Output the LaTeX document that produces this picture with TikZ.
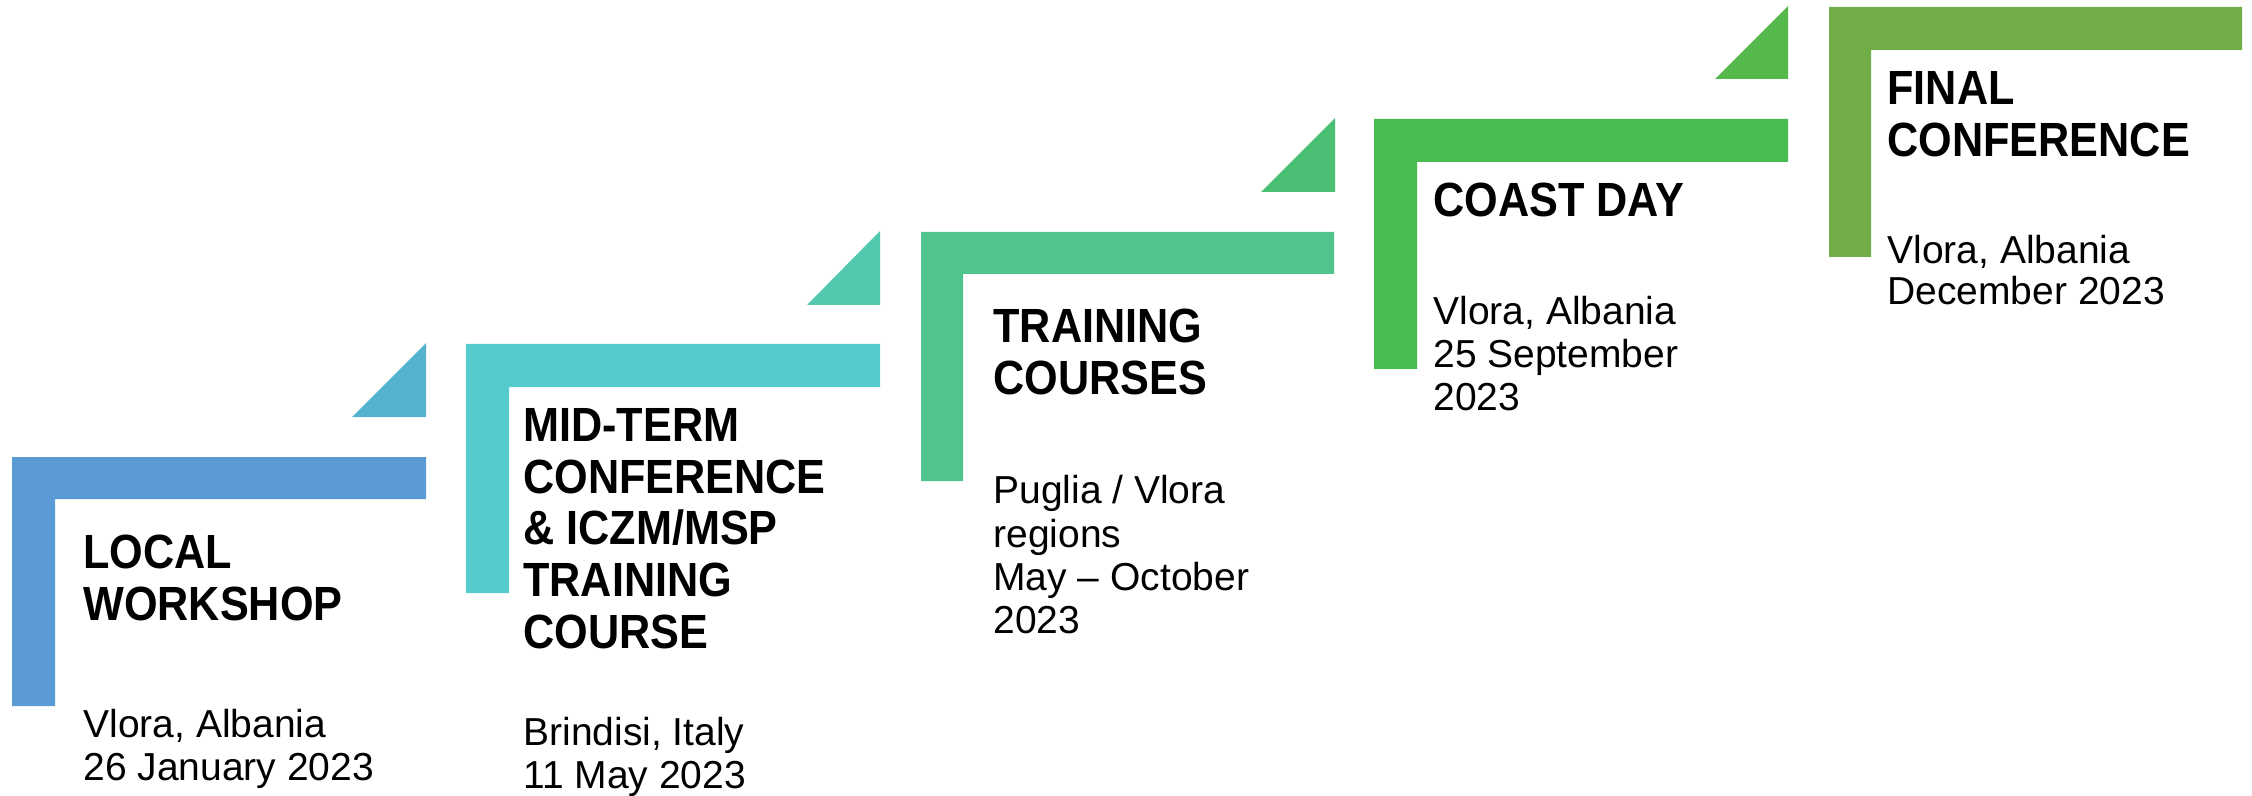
\documentclass[tikz,border=0pt]{standalone}
\usepackage{fontspec}
\setmainfont{Liberation Sans}
\newfontfamily\titlefont[FakeStretch=0.9]{Liberation Sans}
\definecolor{cS1}{HTML}{5B9BD5}
\definecolor{cT1}{HTML}{56B3D0}
\definecolor{cS2}{HTML}{55CBCD}
\definecolor{cT2}{HTML}{52C9AD}
\definecolor{cS3}{HTML}{4FC58D}
\definecolor{cT3}{HTML}{4BBF73}
\definecolor{cS4}{HTML}{48BB51}
\definecolor{cT4}{HTML}{55B84A}
\definecolor{cS5}{HTML}{70AD47}
\tikzset{
  ttl/.style={anchor=base west, inner sep=0pt, font=\titlefont\bfseries\fontsize{24pt}{26pt}\selectfont},
  dtl/.style={anchor=base west, inner sep=0pt, font=\fontsize{19.5pt}{21.5pt}\selectfont},
}
\begin{document}
\begin{tikzpicture}[x=0.5pt,y=-0.5pt]
\useasboundingbox (0,0) rectangle (2252,796);
% steps
\fill[cS1] (12,457) -- (426,457) -- (426,499) -- (55,499) -- (55,706) -- (12,706) -- cycle;
\fill[cS2] (466,344) -- (880,344) -- (880,387) -- (509,387) -- (509,593) -- (466,593) -- cycle;
\fill[cS3] (921,232) -- (1334,232) -- (1334,274) -- (963,274) -- (963,481) -- (921,481) -- cycle;
\fill[cS4] (1374,119) -- (1788,119) -- (1788,162) -- (1417,162) -- (1417,369) -- (1374,369) -- cycle;
\fill[cS5] (1829,7) -- (2242,7) -- (2242,50) -- (1871,50) -- (1871,257) -- (1829,257) -- cycle;
% triangles
\fill[cT1] (426,343) -- (426,417) -- (352,417) -- cycle;
\fill[cT2] (880,231) -- (880,305) -- (807,305) -- cycle;
\fill[cT3] (1335,118) -- (1335,192) -- (1261,192) -- cycle;
\fill[cT4] (1788,6) -- (1788,79) -- (1715,79) -- cycle;
% step 1
\node[ttl] (a1) at (83,568) {LOCAL};
\node[ttl] (a2) at (83,620) {WORKSHOP};
\node[dtl] (a3) at (83,737) {Vlora, Albania};
\node[dtl] (a4) at (83,780) {26 January 2023};
% step 2
\node[ttl] (b1) at (523,441) {MID-TERM};
\node[ttl] (b2) at (523,493) {CONFERENCE};
\node[ttl] (b3) at (523,544) {\& ICZM/MSP};
\node[ttl] (b4) at (523,596) {TRAINING};
\node[ttl] (b5) at (523,648) {COURSE};
\node[dtl] (b6) at (523,745) {Brindisi, Italy};
\node[dtl] (b7) at (523,788) {11 May 2023};
% step 3
\node[ttl] (c1) at (993,343) {TRAINING};
\node[ttl] (c2) at (993,394) {COURSES};
\node[dtl] (c3) at (993,503) {Puglia / Vlora};
\node[dtl] (c4) at (993,547) {regions};
\node[dtl] (c5) at (993,590) {May – October};
\node[dtl] (c6) at (993,633) {2023};
% step 4
\node[ttl] (d1) at (1433,217) {COAST DAY};
\node[dtl] (d2) at (1433,325) {Vlora, Albania};
\node[dtl] (d3) at (1433,367) {25 September};
\node[dtl] (d4) at (1433,410) {2023};
% step 5
\node[ttl] (e1) at (1887,105) {FINAL};
\node[ttl] (e2) at (1887,157) {CONFERENCE};
\node[dtl] (e3) at (1887,264) {Vlora, Albania};
\node[dtl] (e4) at (1887,305) {December 2023};
\end{tikzpicture}
\end{document}
